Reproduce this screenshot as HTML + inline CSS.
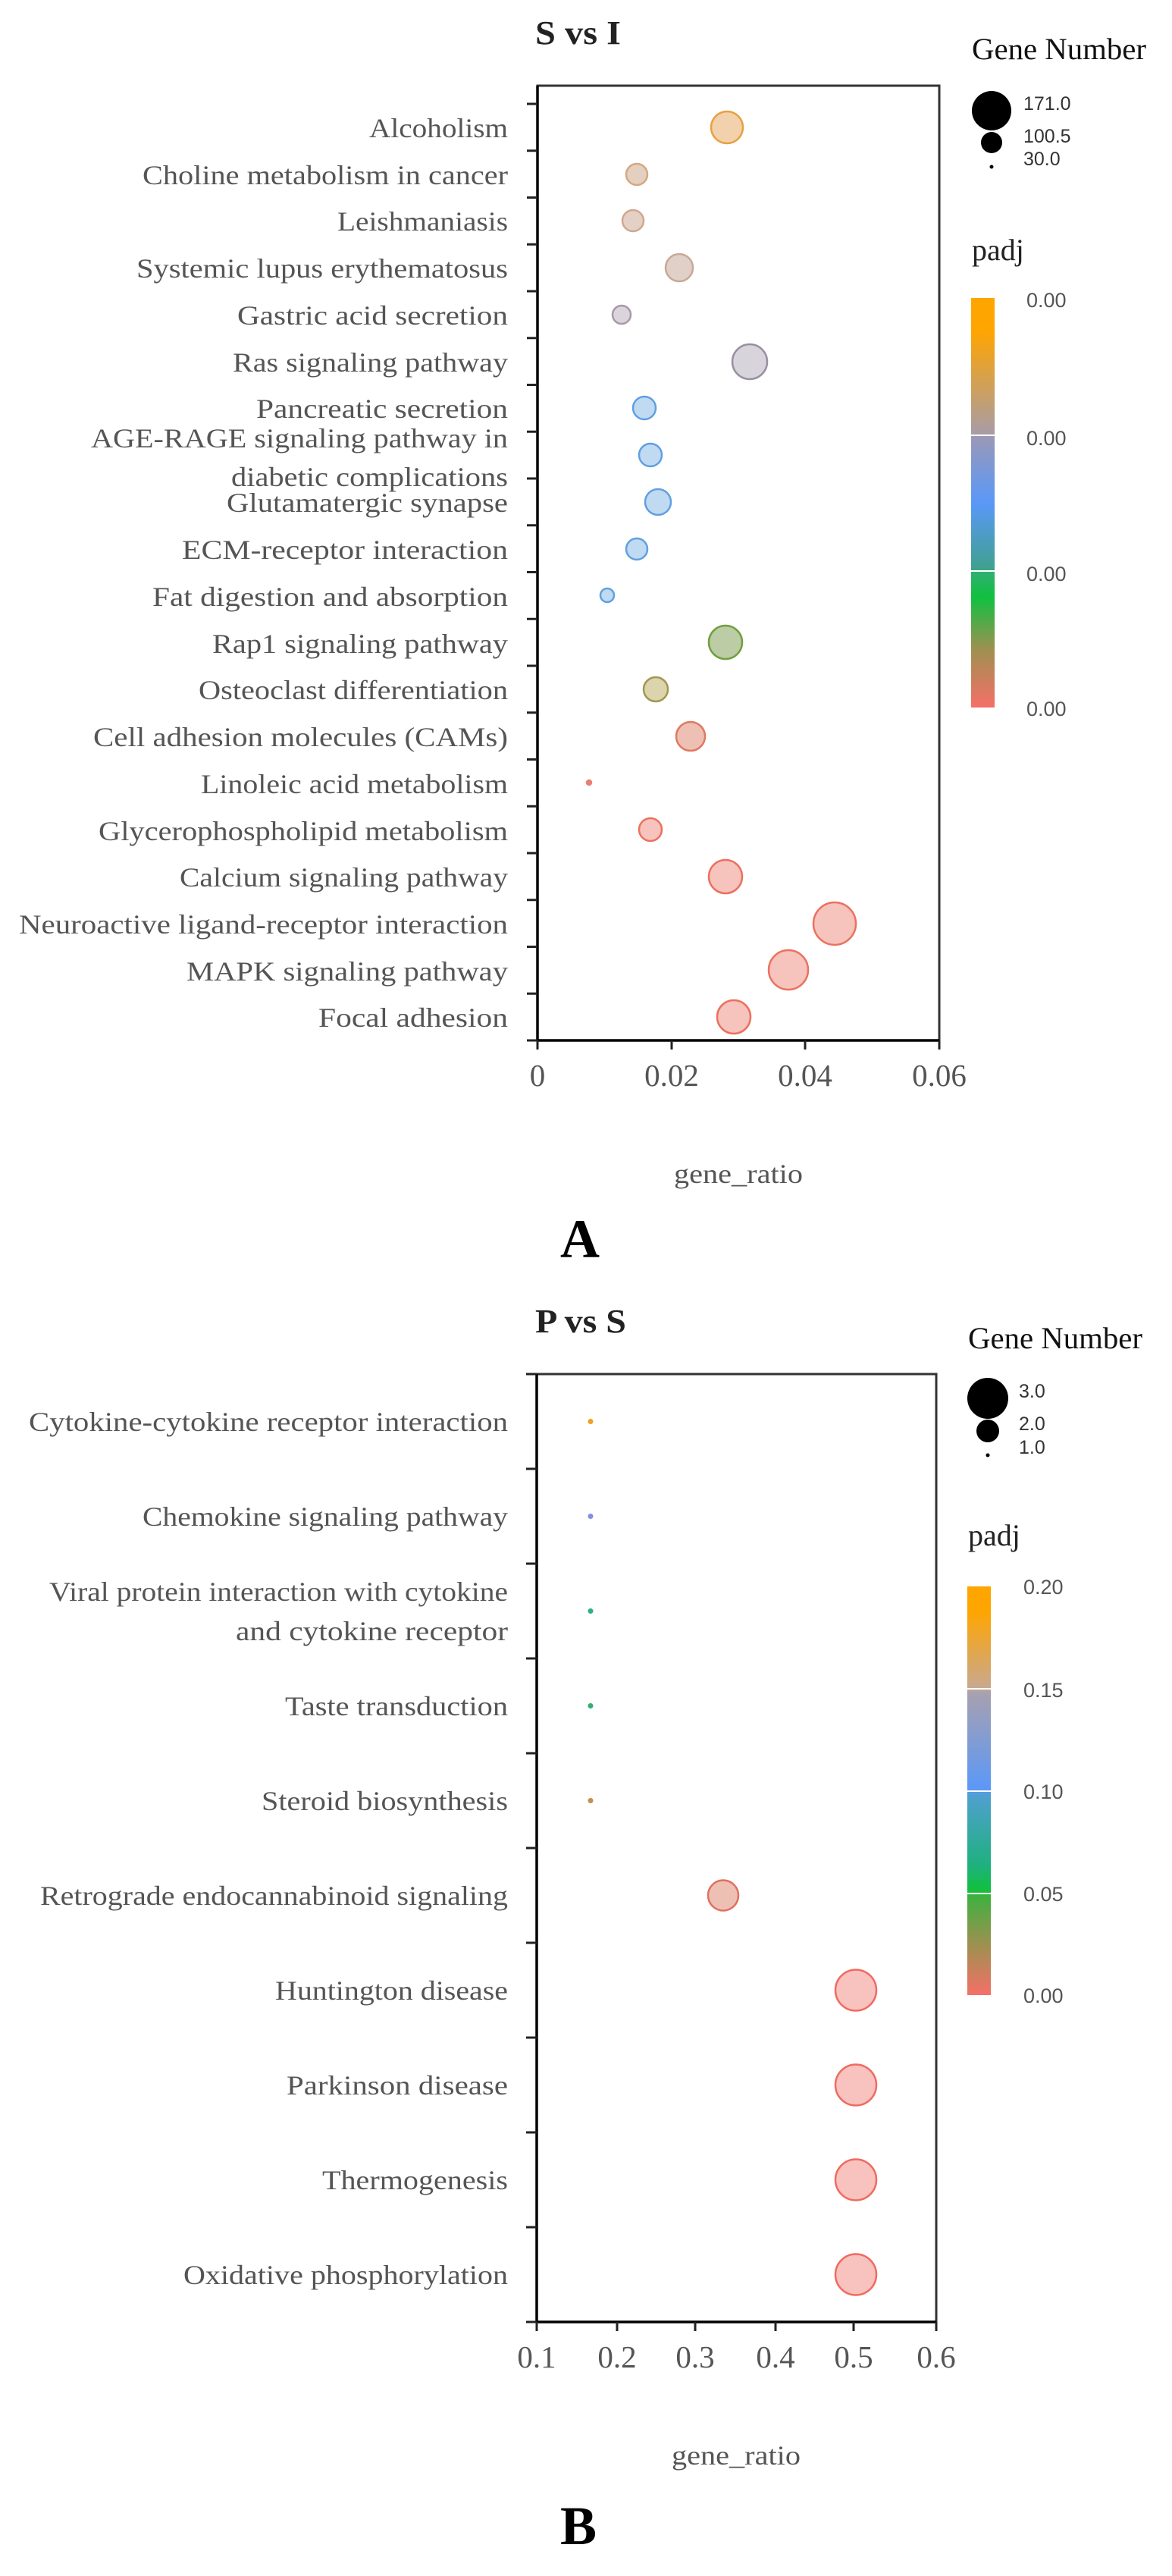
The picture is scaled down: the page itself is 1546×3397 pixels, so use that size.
<!DOCTYPE html>
<html><head><meta charset="utf-8"><style>
html,body{margin:0;padding:0;background:#fff;}
svg{display:block;}
.lab{font-family:"Liberation Serif",serif;font-size:36px;fill:#555;}
.tk{font-family:"Liberation Serif",serif;font-size:41px;fill:#555;}
.leg{font-family:"Liberation Sans","DejaVu Sans",sans-serif;font-size:25px;fill:#333;}
.cb{font-family:"Liberation Sans","DejaVu Sans",sans-serif;font-size:27px;fill:#555;}
</style></head><body>
<svg width="1546" height="3397" viewBox="0 0 1546 3397" xmlns="http://www.w3.org/2000/svg">
<defs>
<linearGradient id="gA" x1="0" y1="0" x2="0" y2="1">
<stop offset="0" stop-color="#ffa500"/><stop offset="0.08" stop-color="#ffa500"/>
<stop offset="0.33" stop-color="#a89ca4"/><stop offset="0.34" stop-color="#9a98b8"/>
<stop offset="0.5" stop-color="#5a98f8"/><stop offset="0.66" stop-color="#40a090"/>
<stop offset="0.67" stop-color="#30b070"/><stop offset="0.73" stop-color="#10c040"/>
<stop offset="0.86" stop-color="#a09050"/><stop offset="1" stop-color="#f47068"/>
</linearGradient>
<linearGradient id="gB" x1="0" y1="0" x2="0" y2="1">
<stop offset="0" stop-color="#ffa500"/><stop offset="0.06" stop-color="#ffa500"/>
<stop offset="0.25" stop-color="#c8a890"/><stop offset="0.26" stop-color="#a8a0b0"/>
<stop offset="0.5" stop-color="#5a98f8"/><stop offset="0.51" stop-color="#50a0d0"/>
<stop offset="0.68" stop-color="#20b080"/><stop offset="0.74" stop-color="#10c040"/>
<stop offset="0.76" stop-color="#40b040"/><stop offset="0.88" stop-color="#a09050"/>
<stop offset="1" stop-color="#f47068"/>
</linearGradient>
</defs>

<!-- ===== Panel A ===== -->
<text x="706" y="58" font-family="Liberation Serif,serif" font-weight="bold" font-size="44" fill="#222" textLength="113" lengthAdjust="spacingAndGlyphs">S vs I</text>
<rect x="709" y="113" width="530" height="1259" fill="none" stroke="#333" stroke-width="3"/>
<line x1="709" y1="113" x2="709" y2="1372" stroke="#000" stroke-width="3.5"/>
<line x1="709" y1="1372" x2="1239" y2="1372" stroke="#000" stroke-width="3.5"/>
<g stroke="#222" stroke-width="3">
<line x1="695" y1="137" x2="709" y2="137"/><line x1="695" y1="198.75" x2="709" y2="198.75"/><line x1="695" y1="260.5" x2="709" y2="260.5"/><line x1="695" y1="322.25" x2="709" y2="322.25"/><line x1="695" y1="384" x2="709" y2="384"/><line x1="695" y1="445.75" x2="709" y2="445.75"/><line x1="695" y1="507.5" x2="709" y2="507.5"/><line x1="695" y1="569.25" x2="709" y2="569.25"/><line x1="695" y1="631" x2="709" y2="631"/><line x1="695" y1="692.75" x2="709" y2="692.75"/><line x1="695" y1="754.5" x2="709" y2="754.5"/><line x1="695" y1="816.25" x2="709" y2="816.25"/><line x1="695" y1="878" x2="709" y2="878"/><line x1="695" y1="939.75" x2="709" y2="939.75"/><line x1="695" y1="1001.5" x2="709" y2="1001.5"/><line x1="695" y1="1063.25" x2="709" y2="1063.25"/><line x1="695" y1="1125" x2="709" y2="1125"/><line x1="695" y1="1186.75" x2="709" y2="1186.75"/><line x1="695" y1="1248.5" x2="709" y2="1248.5"/><line x1="695" y1="1310.25" x2="709" y2="1310.25"/><line x1="695" y1="1372" x2="709" y2="1372"/>
<line x1="709" y1="1372" x2="709" y2="1384"/><line x1="886" y1="1372" x2="886" y2="1384"/><line x1="1062" y1="1372" x2="1062" y2="1384"/><line x1="1239" y1="1372" x2="1239" y2="1384"/>
</g>
<g class="lab" text-anchor="end">
<text x="670" y="181" textLength="183" lengthAdjust="spacingAndGlyphs">Alcoholism</text>
<text x="670" y="243" textLength="482" lengthAdjust="spacingAndGlyphs">Choline metabolism in cancer</text>
<text x="670" y="304" textLength="225" lengthAdjust="spacingAndGlyphs">Leishmaniasis</text>
<text x="670" y="366" textLength="490" lengthAdjust="spacingAndGlyphs">Systemic lupus erythematosus</text>
<text x="670" y="428" textLength="357" lengthAdjust="spacingAndGlyphs">Gastric acid secretion</text>
<text x="670" y="490" textLength="363" lengthAdjust="spacingAndGlyphs">Ras signaling pathway</text>
<text x="670" y="551" textLength="332" lengthAdjust="spacingAndGlyphs">Pancreatic secretion</text>
<text x="670" y="590" textLength="550" lengthAdjust="spacingAndGlyphs">AGE-RAGE signaling pathway in</text>
<text x="670" y="641" textLength="365" lengthAdjust="spacingAndGlyphs">diabetic complications</text>
<text x="670" y="675" textLength="371" lengthAdjust="spacingAndGlyphs">Glutamatergic synapse</text>
<text x="670" y="737" textLength="430" lengthAdjust="spacingAndGlyphs">ECM-receptor interaction</text>
<text x="670" y="799" textLength="469" lengthAdjust="spacingAndGlyphs">Fat digestion and absorption</text>
<text x="670" y="861" textLength="390" lengthAdjust="spacingAndGlyphs">Rap1 signaling pathway</text>
<text x="670" y="922" textLength="408" lengthAdjust="spacingAndGlyphs">Osteoclast differentiation</text>
<text x="670" y="984" textLength="547" lengthAdjust="spacingAndGlyphs">Cell adhesion molecules (CAMs)</text>
<text x="670" y="1046" textLength="405" lengthAdjust="spacingAndGlyphs">Linoleic acid metabolism</text>
<text x="670" y="1108" textLength="540" lengthAdjust="spacingAndGlyphs">Glycerophospholipid metabolism</text>
<text x="670" y="1169" textLength="433" lengthAdjust="spacingAndGlyphs">Calcium signaling pathway</text>
<text x="670" y="1231" textLength="645" lengthAdjust="spacingAndGlyphs">Neuroactive ligand-receptor interaction</text>
<text x="670" y="1293" textLength="424" lengthAdjust="spacingAndGlyphs">MAPK signaling pathway</text>
<text x="670" y="1354" textLength="250" lengthAdjust="spacingAndGlyphs">Focal adhesion</text>
</g>
<g stroke-width="2.5">
<circle cx="959" cy="168" r="21" fill="#f2d2ac" stroke="#e8a040"/>
<circle cx="840" cy="230" r="14" fill="#e4d0c0" stroke="#d4a880"/>
<circle cx="835" cy="291" r="14" fill="#e4d0c4" stroke="#d0a890"/>
<circle cx="896" cy="353" r="18" fill="#e0d0c8" stroke="#c8a898"/>
<circle cx="820" cy="415" r="12" fill="#dcd4dc" stroke="#a898a8"/>
<circle cx="989" cy="477" r="23" fill="#d8d4dc" stroke="#9890a0"/>
<circle cx="850" cy="538" r="15" fill="#c0daf2" stroke="#60a0e0"/>
<circle cx="858" cy="600" r="15" fill="#c0daf2" stroke="#60a0e0"/>
<circle cx="868" cy="662" r="17" fill="#c0daf2" stroke="#60a0e0"/>
<circle cx="840" cy="724" r="14" fill="#c0daf2" stroke="#60a0e0"/>
<circle cx="801" cy="785" r="9" fill="#c0daf2" stroke="#60a0e0"/>
<circle cx="957" cy="847" r="22" fill="#bccca4" stroke="#70a040"/>
<circle cx="865" cy="909" r="16" fill="#dcd4ac" stroke="#a09850"/>
<circle cx="911" cy="971" r="19" fill="#eec0b4" stroke="#e07860"/>
<circle cx="777" cy="1032" r="3" fill="#e88070" stroke="#e88070"/>
<circle cx="858" cy="1094" r="15" fill="#f6c4bc" stroke="#ec7060"/>
<circle cx="957" cy="1156" r="22" fill="#f6c4bc" stroke="#ec7060"/>
<circle cx="1101" cy="1218" r="28" fill="#f6c4bc" stroke="#ec7060"/>
<circle cx="1040" cy="1279" r="26" fill="#f6c4bc" stroke="#ec7060"/>
<circle cx="968" cy="1341" r="22" fill="#f6c4bc" stroke="#ec7060"/>
</g>
<g class="tk" text-anchor="middle">
<text x="709" y="1432">0</text><text x="886" y="1432">0.02</text><text x="1062" y="1432">0.04</text><text x="1239" y="1432">0.06</text>
</g>
<text x="974" y="1560" class="lab" text-anchor="middle" font-size="38" textLength="170" lengthAdjust="spacingAndGlyphs">gene_ratio</text>
<text x="765" y="1658" text-anchor="middle" font-family="Liberation Serif,serif" font-weight="bold" font-size="72" fill="#000">A</text>
<!-- legend A -->
<text x="1282" y="78" font-family="Liberation Serif,serif" font-size="40" fill="#111" textLength="230" lengthAdjust="spacingAndGlyphs">Gene Number</text>
<circle cx="1308" cy="146" r="26" fill="#000"/><circle cx="1308" cy="188" r="14" fill="#000"/><circle cx="1308" cy="220" r="2.5" fill="#000"/>
<text class="leg" x="1350" y="145">171.0</text><text class="leg" x="1350" y="188">100.5</text><text class="leg" x="1350" y="218">30.0</text>
<text x="1282" y="343" font-family="Liberation Serif,serif" font-size="40" fill="#222">padj</text>
<rect x="1281" y="393" width="31" height="540" fill="url(#gA)"/>
<rect x="1281" y="573" width="31" height="2" fill="#fff"/><rect x="1281" y="752" width="31" height="2" fill="#fff"/>
<text class="cb" x="1354" y="405">0.00</text><text class="cb" x="1354" y="587">0.00</text><text class="cb" x="1354" y="766">0.00</text><text class="cb" x="1354" y="944">0.00</text>

<!-- ===== Panel B ===== -->
<text x="706" y="1757" font-family="Liberation Serif,serif" font-weight="bold" font-size="44" fill="#222" textLength="120" lengthAdjust="spacingAndGlyphs">P vs S</text>
<rect x="708" y="1812" width="527" height="1250" fill="none" stroke="#333" stroke-width="3"/>
<line x1="708" y1="1812" x2="708" y2="3062" stroke="#000" stroke-width="3.5"/>
<line x1="708" y1="3062" x2="1235" y2="3062" stroke="#000" stroke-width="3.5"/>
<g stroke="#222" stroke-width="3">
<line x1="694" y1="1812" x2="708" y2="1812"/><line x1="694" y1="1937" x2="708" y2="1937"/><line x1="694" y1="2062" x2="708" y2="2062"/><line x1="694" y1="2187" x2="708" y2="2187"/><line x1="694" y1="2312" x2="708" y2="2312"/><line x1="694" y1="2437" x2="708" y2="2437"/><line x1="694" y1="2562" x2="708" y2="2562"/><line x1="694" y1="2687" x2="708" y2="2687"/><line x1="694" y1="2812" x2="708" y2="2812"/><line x1="694" y1="2937" x2="708" y2="2937"/><line x1="694" y1="3062" x2="708" y2="3062"/>
<line x1="708" y1="3062" x2="708" y2="3074"/><line x1="814" y1="3062" x2="814" y2="3074"/><line x1="917" y1="3062" x2="917" y2="3074"/><line x1="1023" y1="3062" x2="1023" y2="3074"/><line x1="1126" y1="3062" x2="1126" y2="3074"/><line x1="1235" y1="3062" x2="1235" y2="3074"/>
</g>
<g class="lab" text-anchor="end">
<text x="670" y="1887" textLength="632" lengthAdjust="spacingAndGlyphs">Cytokine-cytokine receptor interaction</text>
<text x="670" y="2012" textLength="482" lengthAdjust="spacingAndGlyphs">Chemokine signaling pathway</text>
<text x="670" y="2111" textLength="605" lengthAdjust="spacingAndGlyphs">Viral protein interaction with cytokine</text>
<text x="670" y="2163" textLength="359" lengthAdjust="spacingAndGlyphs">and cytokine receptor</text>
<text x="670" y="2262" textLength="294" lengthAdjust="spacingAndGlyphs">Taste transduction</text>
<text x="670" y="2387" textLength="325" lengthAdjust="spacingAndGlyphs">Steroid biosynthesis</text>
<text x="670" y="2512" textLength="617" lengthAdjust="spacingAndGlyphs">Retrograde endocannabinoid signaling</text>
<text x="670" y="2637" textLength="307" lengthAdjust="spacingAndGlyphs">Huntington disease</text>
<text x="670" y="2762" textLength="292" lengthAdjust="spacingAndGlyphs">Parkinson disease</text>
<text x="670" y="2887" textLength="245" lengthAdjust="spacingAndGlyphs">Thermogenesis</text>
<text x="670" y="3012" textLength="428" lengthAdjust="spacingAndGlyphs">Oxidative phosphorylation</text>
</g>
<g stroke-width="2.5">
<circle cx="779" cy="1874.5" r="3.5" fill="#f0a020"/>
<circle cx="779" cy="1999.5" r="3.5" fill="#8090e0"/>
<circle cx="779" cy="2124.5" r="3.5" fill="#30b080"/>
<circle cx="779" cy="2249.5" r="3.5" fill="#30b070"/>
<circle cx="779" cy="2374.5" r="3.5" fill="#c09050"/>
<circle cx="954" cy="2499.5" r="20" fill="#eec0b4" stroke="#e07060"/>
<circle cx="1129" cy="2624.5" r="27" fill="#f8c2be" stroke="#f06a60"/>
<circle cx="1129" cy="2749.5" r="27" fill="#f8c2be" stroke="#f06a60"/>
<circle cx="1129" cy="2874.5" r="27" fill="#f8c2be" stroke="#f06a60"/>
<circle cx="1129" cy="2999.5" r="27" fill="#f8c2be" stroke="#f06a60"/>
</g>
<g class="tk" text-anchor="middle">
<text x="708" y="3122">0.1</text><text x="814" y="3122">0.2</text><text x="917" y="3122">0.3</text><text x="1023" y="3122">0.4</text><text x="1126" y="3122">0.5</text><text x="1235" y="3122">0.6</text>
</g>
<text x="971" y="3250" class="lab" text-anchor="middle" font-size="38" textLength="170" lengthAdjust="spacingAndGlyphs">gene_ratio</text>
<text x="763" y="3355" text-anchor="middle" font-family="Liberation Serif,serif" font-weight="bold" font-size="72" fill="#000">B</text>
<!-- legend B -->
<text x="1277" y="1778" font-family="Liberation Serif,serif" font-size="40" fill="#111" textLength="230" lengthAdjust="spacingAndGlyphs">Gene Number</text>
<circle cx="1303" cy="1844" r="27" fill="#000"/><circle cx="1303" cy="1887" r="15" fill="#000"/><circle cx="1303" cy="1919" r="2.5" fill="#000"/>
<text class="leg" x="1344" y="1843">3.0</text><text class="leg" x="1344" y="1886">2.0</text><text class="leg" x="1344" y="1917">1.0</text>
<text x="1277" y="2038" font-family="Liberation Serif,serif" font-size="40" fill="#222">padj</text>
<rect x="1276" y="2092" width="31" height="539" fill="url(#gB)"/>
<rect x="1276" y="2226" width="31" height="2" fill="#fff"/><rect x="1276" y="2361" width="31" height="2" fill="#fff"/><rect x="1276" y="2496" width="31" height="2" fill="#fff"/>
<text class="cb" x="1350" y="2102">0.20</text><text class="cb" x="1350" y="2238">0.15</text><text class="cb" x="1350" y="2372">0.10</text><text class="cb" x="1350" y="2507">0.05</text><text class="cb" x="1350" y="2641">0.00</text>
</svg>
</body></html>
